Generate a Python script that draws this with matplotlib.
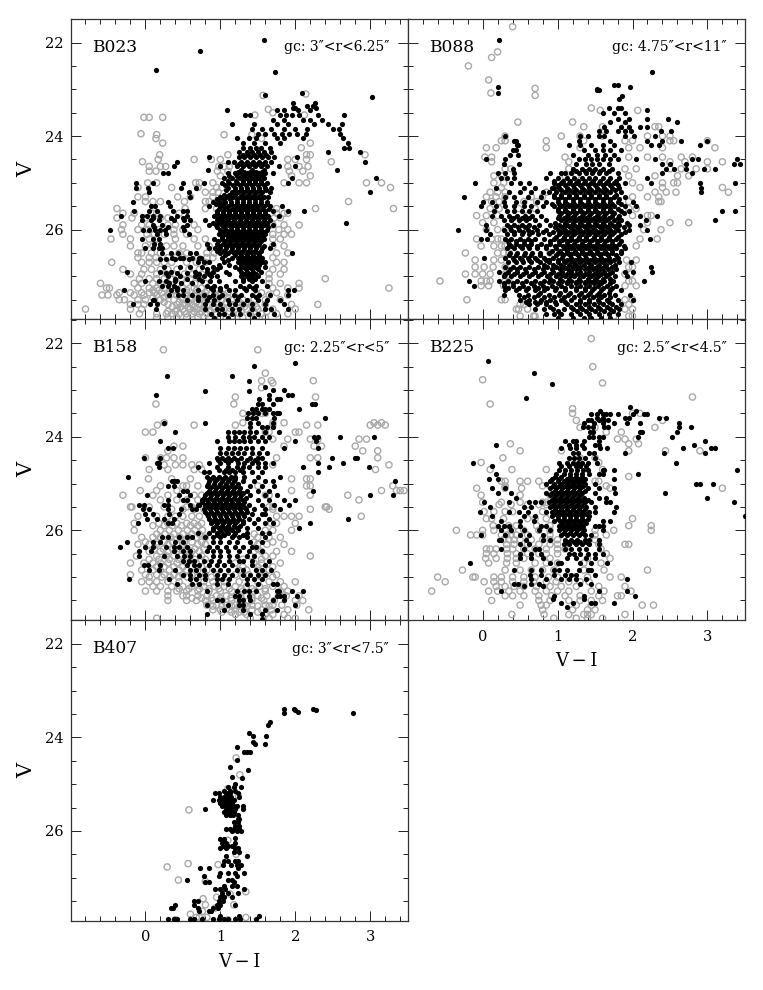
import matplotlib
matplotlib.use("Agg")
import matplotlib.pyplot as plt
from matplotlib.ticker import MultipleLocator

plt.rcParams['font.family'] = ['DejaVu Serif']

# Each row: (V, [V-I colours of the stars read at that magnitude])
b023_black = [
(21.94,[1.58]),(22.18,[.73]),(22.58,[.14]),(22.64,[1.73]),(23.07,[2.09]),(23.13,[1.59]),(23.16,[3.02]),
(23.3,[1.97,2.26]),(23.35,[2.23,2.15]),(23.4,[1.97,2.0,2.28]),(23.45,[1.09,1.75,1.85,2.03,2.2]),
(23.55,[1.33,1.4,1.8,1.88,1.95,2.05,2.3,2.65]),(23.65,[1.7,1.85,2.1,2.2,2.35]),(23.75,[1.16,1.45,1.75,1.9,2.25,2.44,2.62]),
(23.85,[1.42,1.55,1.68,1.85,2.0,2.16,2.5,2.58]),(23.95,[1.5,1.6,1.72,1.82,1.92,2.02,2.14,2.6]),(24.05,[1.22,1.38,1.48,1.75,1.85,2.1,2.64]),
(24.15,[1.3,1.45,1.6,1.8,2.7]),(24.25,[1.3,1.4,1.47,1.54,1.66,2.65,2.72]),(24.35,[1.25,1.35,1.42,1.5,1.58,1.68,2.43,2.86]),
(24.45,[.85,1.25,1.32,1.4,1.48,1.56,1.64,1.72,2.02]),(24.55,[.42,1.1,1.18,1.28,1.36,1.44,1.52,1.6,1.68,2.93]),(24.65,[.38,1.0,1.22,1.3,1.38,1.46,1.54,1.62,1.78,2.0]),
(24.72,[.84,1.27,1.42,1.58,2.56]),(24.8,[.24,.3,1.1,1.2,1.28,1.36,1.44,1.52,1.6,1.7]),(24.9,[1.05,1.16,1.26,1.34,1.42,1.5,1.58,1.95,3.08]),
(25.0,[-.12,.1,.5,.78,1.02,1.12,1.22,1.3,1.38,1.46,1.54,1.62,1.9]),(25.1,[-.13,.03,.47,.68,1.1,1.2,1.28,1.36,1.44,1.52,1.6,1.68]),(25.2,[.05,.58,1.15,1.24,1.32,1.4,1.48,1.56,1.66,3.0]),
(25.3,[.6,1.0,1.08,1.17,1.26,1.34,1.42,1.5,1.58,1.64]),(25.4,[-.16,.3,.9,.98,1.06,1.14,1.22,1.3,1.38,1.46,1.54,1.62]),(25.5,[.08,.13,.33,.85,1.0,1.1,1.18,1.26,1.34,1.42,1.5,1.58,1.66,1.82]),
(25.6,[-.15,.05,.16,.37,.5,.55,.95,1.04,1.12,1.2,1.28,1.36,1.44,1.52,1.6,1.7,1.9,2.11]),(25.7,[-.33,-.05,.02,.1,.2,.42,.55,.92,1.0,1.08,1.16,1.24,1.32,1.4,1.48,1.56,1.64,1.78]),(25.8,[-.04,.08,.18,.38,.52,.6,.8,.95,1.02,1.1,1.18,1.26,1.34,1.42,1.5,1.58,1.66]),
(25.85,[2.67]),(25.9,[.1,.22,.55,.85,.94,1.02,1.1,1.18,1.26,1.34,1.42,1.5,1.58,1.7]),(26.0,[-.47,-.03,.05,.13,.2,.26,.52,1.0,1.07,1.14,1.22,1.3,1.38,1.46,1.54,1.62]),
(26.1,[.16,.28,.58,.98,1.06,1.14,1.22,1.3,1.38,1.46,1.54,1.6]),(26.2,[-.04,.1,.18,.92,1.02,1.1,1.18,1.26,1.34,1.42,1.5,1.58]),(26.3,[.12,.2,.82,.96,1.04,1.12,1.2,1.28,1.36,1.44,1.52,1.7]),
(26.4,[.0,.1,.18,.22,.85,.93,1.0,1.08,1.16,1.24,1.32,1.4,1.48,1.56,1.66]),(26.5,[.22,.34,.44,.6,.68,1.0,1.1,1.18,1.26,1.34,1.42,1.5,1.95]),(26.6,[.35,.46,.5,.62,.72,.74,1.02,1.16,1.24,1.32,1.4,1.48,1.56]),
(26.7,[.7,.78,.85,1.05,1.24,1.32,1.4,1.48,1.56,1.6]),(26.8,[.25,.46,.6,.76,.9,1.0,1.2,1.3,1.38,1.46,1.6]),(26.9,[-.25,.2,.34,.66,.82,.9,1.08,1.28,1.36,1.44,1.54]),
(27.0,[.3,.46,.66,.78,.88,.96,1.28,1.36,1.42,1.5]),(27.1,[.0,.18,.28,.4,.75,.86,.98,1.2,1.3,1.42,1.56]),(27.2,[.22,.3,.38,.82,.92,1.08,1.26,1.38,1.48,1.62]),
(27.3,[-.28,.34,.42,.5,.7,.9,1.0,1.12,1.2,1.34,1.46,1.9,1.98]),(27.4,[.32,.44,.5,.62,.78,.9,1.02,1.18,1.28,1.42,1.52,1.66,1.9]),(27.5,[.1,.12,.55,.7,.82,.92,1.1,1.22,1.36,1.5,1.62,1.8]),
(27.6,[-.16,.06,.15,.8,.9,1.0,1.12,1.2,1.3,1.42,1.6,1.85]),(27.7,[.14,.8,.95,1.02,1.15,1.25,1.42,1.6,1.68,1.9]),(27.8,[.88,.98,1.05,1.15,1.26,1.38,1.5,1.72]),(27.88,[.92,1.1,1.45]),
]
b023_core = [
(24.4,[1.3,1.37,1.45,1.53,1.61]),(24.6,[1.25,1.33,1.41,1.49,1.57]),(24.76,[1.24,1.32,1.4,1.48,1.56]),(24.85,[1.12,1.22,1.31,1.39,1.47,1.55]),(24.95,[1.1,1.21,1.3,1.38,1.46,1.54]),
(25.05,[1.06,1.17,1.26,1.34,1.42,1.5,1.58]),(25.15,[1.08,1.2,1.28,1.36,1.44,1.52,1.61]),(25.25,[1.05,1.12,1.2,1.29,1.37,1.45,1.53]),(25.35,[.96,1.04,1.13,1.22,1.3,1.38,1.46,1.54]),(25.45,[.94,1.03,1.14,1.22,1.3,1.38,1.46,1.54,1.62]),
(25.55,[.98,1.07,1.16,1.24,1.32,1.4,1.48,1.56,1.65]),(25.65,[.96,1.04,1.12,1.2,1.28,1.36,1.44,1.52,1.6]),(25.75,[.97,1.05,1.12,1.2,1.28,1.36,1.44,1.52,1.6]),(25.85,[.9,.98,1.06,1.14,1.22,1.3,1.38,1.46,1.54,1.62]),(25.95,[.96,1.05,1.14,1.22,1.3,1.38,1.46,1.54,1.63]),
(26.05,[1.03,1.1,1.18,1.26,1.34,1.42,1.5,1.58]),(26.15,[1.02,1.1,1.18,1.26,1.34,1.42,1.5,1.57]),(26.25,[.97,1.06,1.14,1.22,1.3,1.38,1.46,1.54]),(26.35,[1.0,1.08,1.16,1.24,1.32,1.4,1.48,1.58]),(26.45,[.96,1.05,1.14,1.22,1.3,1.38,1.46,1.54]),
(26.55,[1.06,1.2,1.28,1.36,1.44,1.52]),(26.65,[1.1,1.28,1.36,1.44,1.52]),(26.75,[.98,1.12,1.28,1.36,1.44,1.52]),(26.85,[.82,.96,1.25,1.34,1.42,1.5]),(26.95,[.72,.85,1.12,1.32,1.4,1.48]),(27.05,[.4,.56,.72,1.3,1.38,1.46]),(27.25,[.42,.88,1.0,1.32,1.44]),(27.45,[.7,.85,.98,1.24,1.48]),
(26.62,[.2,.28,.4,.58]),(26.92,[.28,.42,.56]),(27.15,[.32,.48,.62]),(25.95,[.12,.3,.5]),(25.75,[.1,.34,.5]),
(25.52,[1.05,1.22,1.3,1.38,1.46]),(25.72,[1.04,1.12,1.2,1.28,1.36,1.44,1.52]),(25.87,[1.1,1.18,1.26,1.34,1.42,1.5]),(26.02,[1.08,1.16,1.24,1.32,1.4,1.48]),(26.17,[1.14,1.22,1.3,1.38,1.46]),(26.32,[1.1,1.18,1.26,1.34,1.42,1.5]),(26.47,[1.2,1.28,1.36,1.44]),
]
b023_grey = [
(23.13,[1.57]),(23.1,[2.14]),(23.43,[1.64]),(23.5,[1.7]),(23.55,[1.46,2.12]),(23.6,[-.02,.05,.23]),(23.95,[-.06]),(23.97,[.15,1.05,1.42]),(24.05,[.14,1.55]),(24.15,[.23,2.2]),
(24.25,[2.08]),(24.4,[.19,1.1,2.15,2.2,2.93]),(24.5,[.17,.65,.88,1.0,1.9,2.0,2.15]),(24.55,[-.04,2.48]),(24.65,[.05,.2,.27,.98,1.05,1.12,1.9,2.05,2.17]),(24.75,[.05,.14,.96,1.1,1.92,2.1]),(24.85,[1.0,1.95,2.2]),
(25.0,[.03,.15,.67,.72,.9,1.85,2.05,2.15,2.95,3.15]),(25.1,[-.1,.35,.7,.95,1.02,3.27]),(25.2,[.8,.9,.97]),(25.3,[-.1,.0,.43,.6,.9]),(25.4,[.0,.1,.2,.52,.8,.85,1.0,2.71]),
(25.55,[-.38,.53,.8,.95,1.75,3.31,2.27]),(25.65,[-.3,-.15,.1,.15,.45,1.75,1.85,1.9]),(25.75,[-.38,-.18,.0,.2,.3,1.72,1.8]),(25.9,[-.3,-.05,.05,.3,.4,.65,1.7,1.85,2.05]),(26.0,[-.32,-.1,.03,.18,.38,.5,.7,1.78,1.9]),
(26.1,[-.3,.02,.12,.25,.38,.55,1.7,1.85,1.95]),(26.2,[-.46,-.2,.05,.15,.4,.65,.8,1.7,1.8]),(26.35,[-.2,.0,.1,.28,.38,.5,.7,.85,1.7,1.85]),(26.5,[-.1,-.05,.08,.2,.45,.55,.82,.92,1.75,1.9]),(26.6,[-.1,.05,.14,.3,.4,.5,.7,.82,.9,1.7]),
(26.7,[-.45,-.05,.05,.15,.25,.35,.55,.68,.8,1.75,1.85]),(26.85,[-.3,-.02,.08,.2,.3,.42,.58,.72,1.7,1.85]),(26.95,[-.2,-.05,.15,.28,.38,.52,.62,.75,.9,1.65,1.8]),(27.05,[-.08,.05,.15,.25,.35,.48,.6,.72,1.65,2.4]),
(27.15,[-.6,-.15,-.05,.1,.2,.3,.42,.55,.66,.8,1.65,1.8,2.05]),(27.25,[-.52,-.48,-.1,.05,.15,.25,.35,.5,.65,.75,1.7,1.9,2.05,3.25]),(27.35,[-.35,-.2,-.05,.05,.12,.22,.32,.45,.55,.68,.8,1.0,1.1,1.55,1.75]),
(27.4,[-.58,-.5,-.38,-.15,-.02,.15,.3,.42,.55,.65,.78,.92,1.05,1.5,1.65,1.9]),(27.5,[-.35,-.28,-.1,.0,.2,.38,.5,.62,.75,.85,1.02,1.15,1.3,1.45,1.6,1.8]),(27.6,[-.2,-.1,-.02,.3,.42,.52,.62,.72,.85,.98,1.15,1.3,1.42,1.6,2.3,1.95]),
(27.7,[-.8,-.2,-.05,.42,.5,.6,.7,.8,.92,1.05,1.2,1.35,1.5,1.7,2.0]),(27.8,[-.08,.15,.28,.35,.45,.55,.62,.72,.82,.95,1.1,1.25,1.4,1.55,1.75,1.9]),(27.88,[.15,.3,.42,.55,.7,.85,1.0,1.15,1.3,1.48,1.6]),
(27.55,[.25,.45,.57,.68,.8,.95,1.08,1.25,1.38]),(27.65,[.36,.47,.57,.66,.78,.9,1.02,1.18,1.32,1.48]),(27.75,[.3,.4,.52,.65,.75,.87,1.0,1.12,1.28,1.45,1.62]),(27.45,[.1,.25,.48,.6,.72,.82,.97,1.1,1.22]),(27.3,[.1,.18,.4,.55,.68,.82,.95]),
]

b088_black = [
(21.94,[.22]),(22.95,[.2]),(23.07,[.2]),(23.02,[1.52,1.55]),(22.9,[1.75,1.8]),(22.63,[2.26]),(22.95,[1.97]),(23.0,[1.53]),(23.15,[1.86]),(23.2,[1.82]),
(23.4,[1.68,1.8,1.85]),(23.5,[1.6,1.75,1.9]),(23.63,[1.8,1.95,2.20,2.47]),(23.45,[2.2]),(23.7,[1.7,1.9,2.6]),(23.8,[1.62,1.85,1.95,2.2,2.1]),(23.9,[1.55,1.65,1.8,1.9,1.98,2.38,2.52]),
(24.0,[.3,1.3,1.4,1.55,1.62,1.9,2.02,2.3]),(24.1,[.42,.45,1.28,2.65,3.0,1.7,2.2,2.4]),(24.2,[.46,.47,1.15,1.3,1.45,1.6,1.75,2.35,2.25,2.9]),(24.3,[.45,.4,1.35,1.5,1.6,1.7,1.85]),(24.4,[.47,.37,1.2,1.4,1.52,1.63,1.75]),
(24.5,[.05,.3,1.45,1.28,1.36,1.52,1.6,1.7,1.8,2.05,2.3,2.8,2.88,3.4]),(24.6,[.29,.48,1.38,1.25,1.46,1.55,1.68,2.4,2.5,2.72,3.35,3.43]),(24.7,[.4,1.2,1.32,1.42,1.5,1.6,1.72,2.45,2.55,2.72,2.95,3.1]),(24.8,[.2,.3,.42,.9,1.1,1.05,1.18,1.28,1.38,1.46,1.55,1.65,1.8,2.4,2.8]),
(24.9,[.25,.32,.42,.85,1.0,1.12,1.22,1.32,1.42,1.5,1.6,1.7,1.82,2.2]),(25.0,[-.1,.38,.5,.62,.95,1.05,1.15,1.25,1.35,1.45,1.55,1.65,1.75,1.9,2.25,2.9,3.37]),(25.1,[.18,.55,.7,.95,.92,1.02,1.12,1.22,1.32,1.42,1.52,1.62,1.72,1.82,2.92]),
(25.2,[.35,.5,.65,.8,.88,.98,1.1,1.2,1.3,1.4,1.5,1.6,1.7,1.85,2.92]),(25.3,[-.25,.3,.42,.6,.78,.95,1.05,1.15,1.25,1.35,1.45,1.55,1.65,1.75,1.9]),(25.4,[.0,.12,.28,.45,.55,.72,.85,1.0,1.1,1.2,1.3,1.4,1.5,1.6,1.7,1.8,2.0]),
(25.5,[-.02,.18,.3,.42,.55,.65,.8,.95,1.05,1.15,1.25,1.35,1.45,1.55,1.65,1.75,1.9,2.05]),(25.6,[.15,.32,.42,.52,.62,.72,1.0,1.1,1.2,1.3,1.4,1.5,1.6,1.7,1.85,1.95,3.2,3.37]),(25.7,[.12,.25,.35,.46,.56,.66,.78,1.02,1.12,1.22,1.32,1.42,1.52,1.62,1.72,1.82,2.1,2.33]),
(25.8,[.28,.38,.48,.58,.7,.85,1.05,1.15,1.25,1.35,1.45,1.55,1.65,1.75,1.85,2.18,3.1]),(25.9,[.05,.32,.42,.52,.62,.75,.9,1.02,1.12,1.22,1.32,1.42,1.52,1.62,1.72,1.82,1.95,2.1]),(26.0,[-.33,.05,.28,.38,.48,.6,.72,.85,1.0,1.1,1.2,1.3,1.4,1.5,1.6,1.7,1.8,1.95,2.2]),
(26.1,[.1,.32,.42,.52,.62,.74,.88,1.02,1.12,1.22,1.32,1.42,1.52,1.62,1.72,1.84]),(26.2,[-.02,.06,.3,.38,.5,.6,.7,.82,.95,1.08,1.18,1.28,1.38,1.48,1.58,1.68,1.78,2.23]),(26.3,[.35,.45,.55,.65,.78,.9,1.02,1.12,1.22,1.32,1.42,1.52,1.62,1.72,1.82]),
(26.4,[.32,.42,.52,.62,.72,.85,.98,1.08,1.18,1.28,1.38,1.48,1.58,1.68,1.78,1.9]),(26.5,[.36,.46,.56,.66,.76,.88,1.0,1.12,1.22,1.32,1.42,1.52,1.62,1.72,1.85]),(26.6,[.02,.3,.4,.5,.6,.7,.82,.94,1.06,1.18,1.28,1.38,1.48,1.58,1.68,1.8]),
(26.7,[.34,.44,.54,.64,.76,.88,1.0,1.1,1.2,1.3,1.4,1.5,1.6,1.7,1.82,1.98]),(26.8,[.3,.4,.5,.62,.74,.86,.98,1.08,1.2,1.3,1.42,1.52,1.62,1.72,2.25]),(26.9,[.22,.34,.46,.58,.7,.82,.94,1.06,1.18,1.3,1.42,1.52,1.62,1.72,1.9,2.0,2.26]),
(27.0,[.28,.38,.5,.62,.74,.86,.98,1.1,1.22,1.34,1.44,1.54,1.64,1.76,1.92]),(27.1,[-.18,.22,.34,.46,.58,.7,.82,.94,1.06,1.18,1.3,1.42,1.52,1.62,1.74,2.15]),(27.2,[-.12,.28,.4,.54,.68,.8,.92,1.04,1.18,1.3,1.42,1.54,1.66,1.78]),
(27.3,[.3,.44,.58,.7,.82,.96,1.1,1.24,1.36,1.46,1.58,1.7,1.85]),(27.4,[.28,.48,.6,.74,.88,1.02,1.14,1.28,1.4,1.52,1.62,1.76,1.96]),(27.5,[.5,.62,.78,.9,1.04,1.18,1.3,1.42,1.54,1.66,1.8,2.0]),
(27.6,[.62,.72,.84,.98,1.12,1.24,1.36,1.48,1.6,1.72,1.85]),(27.7,[.7,.82,.94,1.08,1.2,1.32,1.44,1.56,1.7,1.82]),(27.8,[.85,.95,1.05,1.18,1.3,1.42,1.55,1.68,1.8]),(27.88,[1.0,1.2,1.35,1.45,1.58,1.7]),
]
b088_core = [
(24.75,[1.25,1.37,1.47,1.57,1.68]),(24.95,[.95,1.07,1.17,1.27,1.37,1.47,1.57,1.67,1.78]),(25.05,[1.0,1.1,1.2,1.3,1.4,1.5,1.6,1.7,1.8]),(25.15,[1.05,1.15,1.25,1.35,1.45,1.55,1.65,1.76]),
(25.25,[.95,1.05,1.15,1.25,1.35,1.45,1.55,1.65,1.78]),(25.35,[1.0,1.1,1.2,1.3,1.4,1.5,1.6,1.7,1.82]),(25.45,[.92,1.02,1.12,1.22,1.32,1.42,1.52,1.62,1.72,1.85]),(25.55,[1.0,1.1,1.2,1.3,1.4,1.5,1.6,1.7,1.8]),
(25.65,[1.05,1.15,1.25,1.35,1.45,1.55,1.65,1.75,1.88]),(25.75,[1.0,1.08,1.18,1.28,1.38,1.48,1.58,1.68,1.8]),(25.85,[.96,1.1,1.2,1.3,1.4,1.5,1.6,1.7,1.8,1.92]),(25.95,[.96,1.06,1.16,1.26,1.36,1.46,1.56,1.66,1.76,1.88]),
(26.05,[.94,1.05,1.15,1.25,1.35,1.45,1.55,1.65,1.75,1.9]),(26.15,[.98,1.08,1.18,1.28,1.38,1.48,1.58,1.68,1.8]),(26.25,[.9,1.02,1.13,1.23,1.33,1.43,1.53,1.63,1.73,1.85]),(26.35,[.96,1.07,1.17,1.27,1.37,1.47,1.57,1.67,1.77,1.88]),
(26.45,[.92,1.03,1.13,1.23,1.33,1.43,1.53,1.63,1.73,1.84]),(26.55,[.98,1.07,1.17,1.27,1.37,1.47,1.57,1.67,1.78]),(26.65,[.88,1.0,1.12,1.23,1.33,1.43,1.53,1.63,1.75]),(26.75,[.82,.94,1.05,1.15,1.25,1.35,1.45,1.55,1.65,1.76]),
(26.85,[.92,1.03,1.14,1.25,1.36,1.47,1.57,1.67,1.78]),(26.95,[1.0,1.12,1.24,1.36,1.48,1.58,1.68]),(27.05,[.9,1.03,1.15,1.28,1.4,1.5,1.6,1.7]),(27.15,[1.0,1.12,1.24,1.36,1.48,1.58,1.7]),(27.25,[.86,1.1,1.24,1.36,1.48,1.6,1.72]),(27.35,[.76,1.03,1.17,1.31,1.43,1.55,1.68]),(27.45,[.95,1.08,1.22,1.35,1.47,1.58,1.7]),(27.55,[.7,.84,1.1,1.3,1.42,1.55,1.68]),(27.65,[.9,1.18,1.3,1.42,1.54,1.66,1.78]),(27.75,[1.0,1.26,1.38,1.5,1.62,1.74]),
(25.75,[.4,.52,.62]),(25.95,[.37,.47,.57,.68]),(26.25,[.34,.44,.55,.65]),(26.55,[.35,.45,.55,.65,.76]),(26.85,[.36,.46,.56,.68,.8]),(27.15,[.28,.4,.52,.64,.76]),(27.45,[.55,.68,.82]),
(25.47,[1.08,1.18,1.28,1.38,1.48,1.58,1.68]),(25.62,[1.12,1.22,1.32,1.42,1.52,1.62,1.72]),(25.77,[1.12,1.22,1.32,1.42,1.52,1.62]),(25.92,[1.08,1.18,1.28,1.38,1.48,1.58,1.68,1.78]),(26.07,[1.1,1.2,1.3,1.4,1.5,1.6,1.7]),(26.22,[1.06,1.16,1.26,1.36,1.46,1.56,1.66]),(26.37,[1.12,1.22,1.32,1.42,1.52,1.62,1.72]),(26.52,[1.06,1.16,1.26,1.36,1.46,1.56,1.66]),(26.67,[1.08,1.18,1.28,1.38,1.48,1.58,1.68]),(26.82,[1.1,1.2,1.3,1.4,1.5,1.6]),(26.97,[1.06,1.18,1.3,1.42,1.54,1.64]),(27.12,[.88,1.12,1.24,1.36,1.46,1.56]),
(26.35,[.38,.5,.6,.72,.84]),(26.65,[.42,.52,.62,.72,.85]),(26.95,[.3,.42,.54,.66,.78,.9]),(27.25,[.34,.48,.6,.74,.98]),(27.55,[.58,.76,.96]),(26.05,[.42,.54,.66,.8]),
]
b088_grey = [
(21.66,[.4]),(22.2,[.2]),(22.32,[.12]),(22.5,[-.19]),(22.8,[.08]),(22.98,[.7]),(23.08,[.11]),(23.13,[.7]),(23.4,[1.45]),(23.45,[1.57,2.07]),(23.7,[1.2,.47]),(23.8,[1.35,1.6,1.9,2.3,2.35]),
(24.0,[.3,1.05,1.3,1.6,2.2,2.4,2.5]),(24.1,[.3,.25,.85,1.35,1.9,2.0,2.55,2.5,3.0]),(24.25,[.18,.05,.85,1.3,1.95,2.1,2.4,3.1]),(24.45,[.03,.12,1.1,1.95,2.2,2.4,2.65,2.8]),(24.55,[.12,1.15,2.5,2.7,3.0,3.2]),
(24.7,[.3,.38,1.15,1.9,2.05,2.5,2.65,2.85,3.0]),(24.85,[.25,.15,1.1,1.25,1.95,2.3,2.6,2.75]),(25.0,[.15,.28,1.2,2.0,2.4,2.55,2.6]),(25.1,[.25,1.0,2.1,2.4,3.2]),(25.2,[.1,.2,.3,.85,2.3,2.45,2.58,3.28]),
(25.3,[.05,.18,.3,.65,.8,2.0,2.2,2.35]),(25.4,[.12,.22,.55,.72,1.95,2.35,2.38]),(25.55,[.1,.22,.48,.7,1.95,2.05]),(25.7,[-.08,.05,.2,.6,2.0,2.2,2.25]),(25.85,[.0,.15,.45,2.2,2.5,2.75]),(26.0,[.05,.2,.3,2.15,2.38]),
(26.2,[-.08,.12,.2,.25,2.1,2.33]),(26.35,[-.02,.15,.25,.3,2.05]),(26.5,[-.23,.2,.28,.35,.9,1.15]),(26.65,[-.1,.15,.25,2.05,1.92]),(26.8,[-.1,.02,.14,.3,1.95,2.0]),(26.95,[-.23,-.1,.0,.1,.3,1.98,1.9]),
(27.1,[-.57,-.02,.05,.1,.3,.35,1.95,2.0]),(27.2,[-.02,.08,.28,.32,1.9,2.05]),(27.5,[-.21,.25,.3,1.9,2.0]),(27.6,[.5,.55,1.95]),(27.7,[.45,.6,.48,2.0,1.9]),(27.85,[.5,.68,.7,2.0,1.95,1.75]),
]

b158_black = [
(22.43,[2.0]),(22.48,[1.45]),(22.7,[.29,1.15]),(22.8,[1.38]),(22.93,[1.6]),(23.0,[1.7,1.85]),(23.02,[.8,1.38]),(23.1,[1.65]),(23.1,[.14,1.9,1.95]),
(23.2,[1.52,1.75,1.8,1.65]),(23.3,[1.5,1.55,1.7,2.26,2.22]),(23.4,[1.42,1.48,1.55,1.6,1.65,2.05]),(23.5,[1.37,1.43,1.5,1.6,1.7,1.75,1.78]),(23.6,[1.36,1.42,1.48,1.72,2.4]),(23.7,[.25,.8,1.4,1.5,1.7]),
(23.8,[1.4,1.55,1.62,1.7]),(23.9,[1.1,1.18,1.25,1.32,1.4,1.48,1.6,1.78,.4]),(24.0,[1.1,1.2,1.3,1.38,1.45,1.55,1.65,2.25,2.3,2.6,3.05]),(24.1,[.19,.95,1.12,1.18,1.25,1.32,1.4,1.5,1.6,2.0,2.27]),(24.25,[.3,.37,1.0,1.1,1.18,1.26,1.34,1.42,1.55,1.85,2.3]),
(24.35,[1.0,1.08,1.16,1.24,1.32,1.42,1.52,1.62]),(24.45,[-.02,.2,.95,1.02,1.1,1.18,1.28,1.4,1.5,1.55,2.49,2.8,2.83]),(24.55,[.15,.18,.85,1.0,1.1,1.24,1.32,1.42,1.5,1.6,1.7,2.3,2.63]),(24.65,[.18,.7,.95,1.1,1.22,1.3,1.38,1.5,1.6,2.1,2.45,2.98]),
(24.75,[.78,.85,1.05,1.12,1.2,1.3,1.42,1.55,2.3]),(24.85,[-.23,.82,.9,.98,1.06,1.14,1.2,1.32,1.5,1.8]),(24.95,[.35,.38,.42,.85,.93,1.02,1.1,1.18,1.3,1.45,1.6,1.7,3.33]),(25.05,[.3,.38,.82,.9,.98,1.06,1.14,1.22,1.4,1.55,1.72]),
(25.15,[.5,.55,.85,.93,1.01,1.09,1.17,1.25,1.35,1.5,1.65,2.23]),(25.25,[.02,.45,.6,.8,.88,.96,1.04,1.12,1.2,1.28,1.4,1.6,1.75,3.0,3.3]),(25.35,[.3,.5,.55,.75,.82,.9,.98,1.06,1.14,1.22,1.3,1.5,1.65,1.85,2.0]),
(25.45,[-.08,-.02,.25,.3,.6,.7,.72,.8,.88,.96,1.04,1.12,1.2,1.28,1.38,1.55,1.72,1.92]),(25.55,[-.03,.05,.3,.48,.62,.68,.78,.86,.94,1.02,1.1,1.18,1.26,1.34,1.45,1.6,1.8]),(25.65,[.0,.1,.32,.45,.82,.9,.98,1.06,1.14,1.22,1.3,1.42,1.55,1.6]),
(25.75,[.02,.15,.25,.38,.85,.93,1.01,1.09,1.17,1.25,1.38,1.5,1.65,2.7]),(25.85,[-.1,.3,.36,.88,.96,1.04,1.12,1.2,1.3,1.45,1.6,2.2,1.7]),(25.95,[.9,.98,1.05,1.12,1.22,1.35,1.5,2.05]),
(26.05,[.7,.85,.95,1.02,1.1,1.2,1.35,1.55,1.65]),(26.15,[.22,.3,.45,.55,.62,.8,.9,1.0,1.15,1.25,1.35,1.6]),(26.25,[-.25,.1,.2,.4,.5,.9,1.0,1.12,1.22,1.4,1.55]),(26.35,[-.34,.0,.1,.28,.38,.45,.55,.85,.96,1.08,1.2,1.3,1.42,1.48]),
(26.45,[-.08,.07,.38,.5,.6,.82,.9,1.0,1.1,1.25,1.38,1.55]),(26.55,[-.08,.25,.42,.52,.6,.72,.9,1.0,1.12,1.22,1.35,1.45]),(26.65,[.5,.58,.65,.78,.88,.98,1.12,1.25,1.3,1.42,1.65]),(26.75,[-.02,.04,.2,.55,.65,.72,.85,.95,1.05,1.15,1.42,1.6]),
(26.85,[.05,.18,.4,.6,.68,.78,.9,1.0,1.1,1.22,1.3,1.48,1.55,1.68]),(26.95,[.5,.6,.72,.8,.95,1.05,1.15,1.3,1.4,1.5,1.6]),(27.05,[-.22,.32,.6,.68,.8,.95,1.02,1.12,1.35,1.45,1.55]),(27.15,[.42,.62,.72,.95,1.1,1.35,1.5,1.7,1.75]),
(27.3,[.82,1.22,1.32,1.38,1.48,1.75,1.78,2.1,1.95]),(27.4,[1.2,1.25,1.38,1.8,1.85,1.75,2.02]),(27.5,[.95,1.02,1.25,1.3,1.4,1.7,1.85]),(27.6,[.82,1.25,1.3,1.1,2.0]),(27.7,[1.05,1.3,1.6,1.75]),(27.8,[.82,1.4,1.55]),(27.9,[1.55]),
]
b158_core = [
(24.5,[.97,1.06,1.14,1.22,1.36,1.46]),(24.7,[.98,1.07,1.16,1.26]),(24.9,[.86,.95,1.04,1.12,1.2]),(25.0,[.84,.92,1.0,1.08,1.16,1.24]),(25.1,[.86,.94,1.02,1.1,1.18,1.26]),(25.2,[.82,.9,.98,1.06,1.14,1.22,1.3]),(25.3,[.78,.86,.94,1.02,1.1,1.18,1.26,1.34]),
(25.4,[.76,.84,.92,1.0,1.08,1.16,1.24,1.32]),(25.5,[.84,.92,1.0,1.08,1.16,1.24,1.32]),(25.6,[.8,.88,.96,1.04,1.12,1.2,1.28,1.36]),(25.7,[.84,.92,1.0,1.08,1.16,1.24,1.32]),(25.8,[.9,.98,1.06,1.14,1.22,1.3]),(25.9,[.94,1.02,1.1,1.18,1.26]),(26.0,[.9,1.0,1.08,1.16,1.24]),(26.1,[.96,1.05,1.18,1.3]),
]
b158_grey = [
(22.14,[.24,1.5]),(22.64,[1.6]),(22.8,[1.68,1.55,2.24]),(22.85,[1.7]),(22.95,[1.55]),(23.15,[2.27,1.2]),(23.3,[.14,1.18]),(23.5,[1.3,1.55,1.6]),(23.7,[.25,1.3,1.7,1.85,3.05,3.15]),(23.75,[.16,.65,1.2,1.7,2.15,2.3,3.0,3.2,3.1]),
(23.9,[.1,.0,2.05,2.0,1.6,1.65]),(24.05,[1.7,1.9,2.2,2.3,2.85,2.95]),(24.2,[.38,.5,2.25,2.35,1.85,2.8]),(24.3,[.3,1.2,2.9,3.1]),(24.45,[.0,.2,.28,.38,.5,1.15,1.45,1.75,2.2,2.3,3.1]),(24.6,[.25,.4,.5,.62,.72,1.7,3.25]),
(24.7,[.3,.05,.65,.75,3.07]),(24.9,[.04,.35,.6,1.95,2.2,2.15]),(25.05,[.2,.5,.55,.7,1.5,2.15,2.2,3.3]),(25.15,[-.07,.15,.42,.9,1.95,3.4,3.45,3.35,3.15]),(25.25,[-.3,.1,.3,.65,.75,1.6,1.65,2.2,2.7]),(25.35,[.2,.42,.55,.7,2.85]),
(25.5,[-.2,-.18,.05,.25,.55,.62,1.65,1.7,2.4,2.42]),(25.55,[.35,.5,.65,.78,1.7,2.2,2.45]),(25.7,[-.1,.15,.3,.4,.5,.62,.72,1.75,1.85,1.95,2.05,2.88]),(25.85,[-.15,.18,.3,.42,.55,.65,.75,1.75,2.0,1.68]),(26.0,[-.15,.2,.32,.44,.56,.66,.76,1.6,1.7,1.95]),
(26.15,[-.05,.1,.2,.34,.46,.58,.68,.8,1.5,1.65,1.8]),(26.3,[-.1,.05,.15,.3,.42,.5,.7,.8,1.5,1.62,1.85]),(26.45,[.05,.2,.3,.42,.52,.62,.72,1.45,1.55,1.75,1.95]),(26.55,[-.12,.15,.28,.38,.48,.6,.75,1.4,1.6,1.7,2.2]),(26.7,[-.2,-.02,.1,.2,.3,.42,.55,.68,1.2,1.45,1.55,1.8]),
(26.85,[-.05,.1,.2,.32,.45,.55,.7,.82,1.25,1.35,1.5,1.65]),(26.95,[-.2,.0,.15,.25,.38,.5,.62,.8,.95,1.2,1.38,1.6,1.75]),(27.1,[-.05,.05,.15,.3,.45,.65,.78,.9,1.05,1.25,1.5,1.65,1.8,2.0]),(27.2,[.1,.2,.35,.5,.62,.78,.92,1.05,1.2,1.35,1.52,1.7,1.85]),
(27.3,[.0,.15,.3,.42,.55,.7,.85,1.0,1.15,1.3,1.45,1.6,1.8,1.9]),(27.4,[.3,.5,.55,.7,.82,.95,1.08,1.22,1.35,1.5,1.62,1.88,2.05]),(27.5,[.3,.55,.68,.8,.9,1.02,1.15,1.28,1.42,1.58,1.72,2.0,2.1]),(27.6,[.82,.95,1.08,1.2,1.32,1.42,1.6,1.7,1.82,2.02]),
(27.7,[.9,1.0,1.12,1.28,1.42,1.55,1.68,2.18,1.9]),(27.8,[1.2,1.35,1.6,1.7,1.85]),(27.88,[.15,1.65,1.9,2.0,1.4]),
(25.9,[.1,.25,.36,.48,.6,.7]),(26.08,[.15,.26,.38,.5,.62,.72,1.45]),(26.25,[.0,.15,.25,.36,.52,.62,.75,1.45,1.7]),(26.4,[.12,.24,.36,.46,.56,.66,.78,1.5]),(26.62,[.05,.18,.32,.44,.56,.66,.8,1.3,1.55]),(26.78,[.15,.25,.38,.5,.62,.75,1.3,1.5,1.7]),(27.0,[.05,.22,.33,.44,.56,.7,.88,1.1,1.3,1.55,1.7]),(27.25,[.45,.58,.72,.85,.98,1.12,1.28,1.42,1.6]),(27.45,[.62,.75,.88,1.0,1.14,1.28,1.42,1.55]),(27.62,[.9,1.02,1.15,1.25,1.36,1.5,1.65]),(27.75,[1.02,1.15,1.25,1.32,1.5]),
]

b225_black = [
(22.38,[.07]),(22.63,[.69]),(22.87,[.93]),(23.17,[.58]),(23.37,[1.97]),(23.45,[1.57,2.05]),(23.52,[2.0,2.15,2.2,1.7,1.65,1.8,1.6,1.53,1.45]),(23.6,[1.52,1.6,1.9,1.95,2.35,2.45]),(23.65,[1.45,1.4,1.55,1.62,1.67]),
(23.7,[1.35,1.48,1.6,1.75,2.1,1.93,2.62]),(23.8,[1.34,1.4,1.47,1.62,1.67,2.62,2.78]),(23.9,[1.43,1.47,2.1,2.13,2.6]),(24.0,[1.42,1.47,1.55,1.6,2.07,2.53]),(24.1,[1.1,1.2,1.25,1.35,1.55,2.97]),(24.17,[1.15,1.25,1.33,1.5,1.55,.18,2.82]),
(24.25,[1.05,1.17,1.25,1.35,1.56,1.66,2.67,3.05,3.1]),(24.35,[1.2,1.27,1.42,1.48,1.9,2.42,2.97]),(24.45,[1.15,1.22,1.28,1.36,1.5]),(24.55,[-.13,1.02,1.12,1.2,1.27,1.33,1.4,1.52,2.58]),(24.62,[.12,1.05,1.15,1.24,1.3,1.38]),
(24.7,[1.02,1.1,1.18,1.26,1.34,1.4,1.6,1.62,1.75,3.39]),(24.8,[.18,.98,1.08,1.16,1.24,1.32,1.42,1.55,1.6,2.07]),(24.9,[.08,.2,.92,1.02,1.12,1.2,1.28,1.36,1.75]),(25.0,[.85,.95,1.05,1.13,1.21,1.29,1.37,1.5,2.85,2.9,3.07]),
(25.1,[.13,.3,.9,.98,1.06,1.14,1.22,1.3,1.4,1.55,1.75]),(25.2,[.2,.38,.85,.93,1.01,1.09,1.17,1.25,1.33,1.5,1.77,2.44]),(25.3,[.45,.95,1.03,1.11,1.19,1.27,1.35,1.55,1.65,3.0]),(25.4,[.02,.35,.62,.7,.78,.88,.96,1.04,1.12,1.2,1.28,1.36,1.45,1.65,1.7,3.35]),
(25.5,[.1,.55,.65,.9,.98,1.06,1.14,1.22,1.3,1.38,1.5,1.78]),(25.6,[-.03,.35,.48,.6,.85,.93,1.01,1.09,1.17,1.25,1.33,1.42,1.5,1.75]),(25.7,[.12,.55,.7,.92,1.0,1.08,1.16,1.24,1.32,1.42,3.5]),(25.8,[.25,.5,.68,.95,1.03,1.11,1.19,1.27,1.35,1.6,1.7]),
(25.9,[.2,.28,.35,.5,.78,.85,1.02,1.1,1.18,1.26,1.34,1.5,1.55,1.6]),(26.0,[.25,.38,.55,.75,.9,1.02,1.1,1.18,1.26,1.35,1.6]),(26.1,[-.02,.3,.5,.62,.8,1.05,1.12,1.2,1.28,1.36,1.45]),(26.2,[.22,.25,.58,.8,.9,1.1,1.18,1.26,1.36,1.42,1.55]),
(26.3,[.5,.62,1.08,1.15,1.25,1.32,1.42,1.55]),(26.4,[.25,.55,.7,.75,1.1,1.18,1.28,1.38,1.55]),(26.5,[.5,.65,.78,1.15,1.22,1.3,1.4,1.5,1.6]),(26.6,[.5,.65,.8,1.12,1.25,1.38,1.5]),(26.7,[-.17,.9,1.0,1.05,1.3,1.45,1.66]),
(26.85,[.42,.65,.78,.95,1.02,1.12,1.28,1.4,1.45,1.42]),(26.95,[.63,.78,.95,1.1,1.18,1.25,1.5]),(27.05,[.65,.85,1.05,1.15,1.25,1.38,1.92]),(27.15,[.42,.47,.65,.75,1.3,1.45]),(27.2,[.55,.8]),
(27.3,[.25,1.55,1.92]),(27.4,[.95,1.35,2.03]),(27.47,[.94,1.35]),(27.55,[1.2,1.05,1.45,1.5,1.75]),(27.65,[1.13]),
]
b225_core = [
(24.85,[.96,1.05,1.16,1.24,1.32]),(24.95,[.9,1.0,1.09,1.17,1.25,1.33]),(25.05,[.94,1.02,1.1,1.18,1.26,1.34]),(25.15,[.96,1.04,1.12,1.2,1.28,1.36]),(25.25,[.9,.98,1.06,1.14,1.22,1.3]),(25.35,[.92,1.0,1.08,1.16,1.24,1.32,1.4]),(25.45,[.94,1.02,1.1,1.18,1.26,1.34]),(25.55,[.96,1.05,1.13,1.21,1.29,1.37]),(25.65,[.98,1.06,1.14,1.22,1.3,1.38]),(25.75,[1.0,1.08,1.16,1.24,1.32,1.4]),(25.85,[1.06,1.14,1.22,1.3,1.38]),(25.95,[1.06,1.14,1.22,1.3]),(26.05,[1.08,1.16,1.24,1.32]),(26.25,[1.14,1.22,1.3,1.38]),
]
b225_grey = [
(21.9,[1.45]),(22.5,[1.47]),(22.78,[.0]),(22.85,[1.6]),(23.15,[2.8]),(23.3,[.1]),(23.4,[1.2]),(23.5,[1.2,2.0,2.1]),(23.65,[1.25,2.4]),(23.8,[1.3,1.5,2.3]),(23.9,[1.65,1.85]),(24.05,[1.8,1.9,2.05]),
(24.15,[.37,1.95,2.08]),(24.3,[.5,1.05,1.95,2.44,2.9]),(24.45,[.27,1.3,1.5]),(24.55,[-.02,1.2,1.55]),(24.7,[.1,.39,.85,1.6]),(24.85,[1.95]),(24.95,[.25,.3,.5,.6,.75,1.5,1.55]),(25.05,[.3,.8,.9,1.65]),
(25.1,[-.08,.3,.52,1.7,3.2]),(25.25,[-.02,.5,.9]),(25.4,[.25,.5,.85,.8,.0]),(25.45,[.22,.38,.6,.75,.85]),(25.6,[.02,.15,.3,.4,.8]),(25.75,[.12,.28,.6,.7,.85,2.0,.05]),(25.9,[.14,.35,.45,.72,.9,1.95,2.25]),(26.0,[-.35,.0,.15,.3,.4,.55,.75,.9,1.5,1.75,2.25]),
(26.1,[-.16,-.08,.0,.25,.32,.38,.45,.6,.9,1.5,1.65]),(26.2,[.28,.35,.42,.5,.65,.8,.9,1.0,1.5]),(26.3,[.32,.42,.6,.75,.9,1.0,1.55,1.9,1.95]),(26.4,[.05,.1,.18,.32,.4,.55,.7,.85,1.0,1.1,1.58]),(26.5,[.05,.15,.33,.45,.6,.75,.85,1.0,1.65]),(26.6,[.04,.18,.33,.45,.55,.9,1.4,1.7]),
(26.7,[.08,.32,.45,.7,.85,1.0,1.35,1.58]),(26.85,[-.27,.3,.5,.65,.8,.95,1.35,1.62,2.2]),(27.0,[-.6,-.13,-.1,.15,.25,.4,.55,.7,.88,1.0,1.15,1.4,1.7,1.85]),(27.1,[-.5,.02,.15,.25,.4,.55,.68,.85,.98,1.15,1.3,1.42]),(27.2,[.18,.3,.42,.55,.72,.9,1.05,1.25,1.55,1.9]),
(27.3,[-.68,.08,.2,.35,.5,.7,.85,1.0,1.15,1.45,1.62,1.98]),(27.4,[.3,.4,.55,.75,.92,1.1,1.3,1.55,1.8,1.85]),(27.5,[.12,.75,.9,1.15,1.3,1.45,1.6]),(27.6,[.5,.78,.85,1.25,1.45,2.13,2.28]),(27.7,[.8,1.2,1.4,1.5]),(27.8,[.39,.82,1.15,1.35,1.9,1.45,1.4]),(27.88,[.95,1.25,1.4,1.6]),
]

b407_black = [
(23.39,[1.85,1.98,2.23]),(23.42,[2.28,2.0]),(23.45,[2.03]),(23.48,[1.85,2.77]),(23.68,[1.66]),(23.74,[1.64]),(23.9,[1.38]),(23.96,[1.61,1.44]),(24.09,[1.43]),(24.14,[1.59,1.46]),(24.2,[1.22]),(24.32,[1.32,1.35,1.39]),(24.49,[1.22]),(24.63,[1.13]),(24.7,[1.37]),
(24.85,[1.16]),(24.87,[1.29]),(25.0,[1.2]),(25.06,[1.28,1.1,1.18]),(25.15,[1.05,1.13,1.2]),(25.2,[.93,.98,1.07,1.13,1.24]),(25.28,[1.0,1.05,1.1,1.14,1.25]),(25.33,[.9,.98,1.03,1.08,1.12,1.18]),(25.4,[1.0,1.05,1.1,1.15]),(25.47,[1.02,1.07,1.12,1.18,1.22,1.3]),(25.53,[.8,1.08,1.14,1.2,1.3]),(25.6,[1.05,1.12,1.18]),(25.67,[1.08,1.13,1.17,1.24]),(25.75,[1.25,1.23]),(25.82,[1.18,1.24]),(25.9,[1.2,1.25]),(25.96,[1.08,1.13,1.18,1.25]),(26.0,[1.16,1.22,1.28]),(26.15,[1.2]),(26.17,[1.0,1.05]),(26.25,[1.02,1.08,1.2]),(26.32,[1.04,1.1,1.16]),(26.37,[1.0,1.08,1.2,1.24]),(26.45,[1.18,1.25]),(26.53,[1.07,1.36]),(26.65,[1.05,1.1,1.2,1.24]),(26.72,[1.04,1.14,1.22,1.28]),(26.8,[.73,.85,1.23]),(26.9,[1.0,1.1,1.2,1.32]),(26.97,[.78,.98,1.22]),(27.05,[.56,1.1,1.15]),(27.1,[.85,.8,1.18]),(27.17,[1.05,1.16,1.22]),(27.25,[.93,1.0,1.06,1.32]),(27.32,[1.02,1.1,1.24]),(27.42,[1.0,1.05,1.15]),(27.5,[.65,.7,.98,1.04]),(27.58,[.65,.95,1.0,1.2,.4]),(27.65,[.37,.34,.7,.9,.97]),(27.72,[.72,.85,.88]),(27.82,[1.0,1.25,1.52]),(27.88,[.3,.98,1.1,1.2,1.26,.38,.42,.6,.65,.75,.9,1.05,1.48]),
]
b407_grey = [
(24.44,[1.21]),(24.8,[1.26]),(25.1,[1.1]),(25.25,[1.24]),(25.4,[1.02]),(25.55,[.58]),(26.2,[1.1]),(26.5,[1.21]),(26.7,[.57]),(26.72,[.97]),(26.77,[.29]),(27.05,[.44]),(27.08,[.8]),(27.3,[1.34]),(27.35,[1.13,1.05]),(27.42,[.95]),(27.45,[.77]),(27.58,[.8,1.18]),(27.65,[.93]),(27.72,[.76]),(27.78,[.6]),(27.85,[.68,.72,.82,1.34]),(27.9,[.4,1.0,1.1]),
]

panel_names = ['B023', 'B088', 'B158', 'B225', 'B407']
panel_radii = ['gc: 3″<r<6.25″', 'gc: 4.75″<r<11″', 'gc: 2.25″<r<5″', 'gc: 2.5″<r<4.5″', 'gc: 3″<r<7.5″']
panel_black = [b023_black + b023_core, b088_black + b088_core, b158_black + b158_core, b225_black + b225_core, b407_black]
panel_grey = [b023_grey, b088_grey, b158_grey, b225_grey, b407_grey]
xlabel_panels = ['B225', 'B407']
ylabel_panels = ['B023', 'B158', 'B407']
xtick_values = [0, 1, 2, 3]
ytick_values = [22, 24, 26]


def expand(rows):
    xs, ys = [], []
    for v, colours in rows:
        for c in colours:
            xs.append(c)
            ys.append(v)
    return xs, ys


W, H = 763, 990
fig = plt.figure(figsize=(W / 100, H / 100), dpi=100)
col_x = [70.5, 407.7]
row_y = [18.7, 319.4, 620.0]
pw, ph = 337.2, 300.7

for i, name in enumerate(panel_names):
    c, r = i % 2, i // 2
    ax = fig.add_axes([col_x[c] / W, 1 - (row_y[r] + ph) / H, pw / W, ph / H])
    gx, gy = expand(panel_grey[i])
    bx, by = expand(panel_black[i])
    ax.scatter(gx, gy, s=20, facecolors='none', edgecolors='#a8a8a8', linewidths=1.0, zorder=2)
    ax.scatter(bx, by, s=14, c='black', linewidths=0, zorder=3)
    ax.set_xlim(-1, 3.5)
    ax.set_ylim(27.92, 21.49)
    ax.set_xticks(xtick_values)
    ax.set_yticks(ytick_values)
    ax.xaxis.set_minor_locator(MultipleLocator(0.2))
    ax.yaxis.set_minor_locator(MultipleLocator(0.5))
    ax.tick_params(which='major', direction='in', length=7, width=0.7, top=True, right=True, color='#222222', labelsize=10.5)
    ax.tick_params(which='minor', direction='in', length=3.5, width=0.7, top=True, right=True, color='#222222')
    ax.tick_params(axis='x', pad=7, labelbottom=name in xlabel_panels)
    ax.tick_params(axis='y', pad=5, labelleft=name in ylabel_panels)
    for s in ax.spines.values():
        s.set_linewidth(0.9)
        s.set_color('#333333')
    if name in xlabel_panels:
        ax.set_xlabel('V\u2009−\u2009I', fontsize=13, va='center')
        ax.xaxis.set_label_coords(0.5, -0.137)
    if name in ylabel_panels:
        ax.set_ylabel('V', fontsize=15, va='center')
        ax.yaxis.set_label_coords(-0.129, 0.5)
    ax.text(0.063, 0.905, name, transform=ax.transAxes, fontsize=12.3, va='center', ha='left')
    ax.text(0.945, 0.905, panel_radii[i], transform=ax.transAxes, fontsize=10, va='center', ha='right')

fig.savefig('out.png', dpi=100)
